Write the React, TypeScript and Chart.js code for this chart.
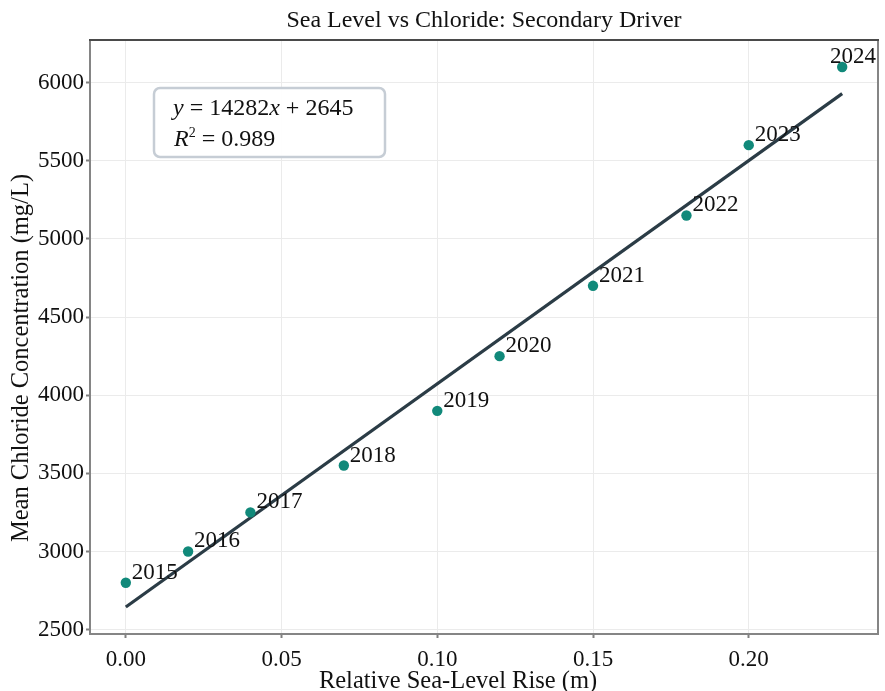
import React, { useEffect, useRef } from "react";
import { Chart, registerables } from "chart.js";

Chart.register(...registerables);

const years = ["2015", "2016", "2017", "2018", "2019", "2020", "2021", "2022", "2023", "2024"];
const seaLevelRise = [0, 0.02, 0.04, 0.07, 0.1, 0.12, 0.15, 0.18, 0.2, 0.23];
const chloride = [2800, 3000, 3250, 3550, 3900, 4250, 4700, 5150, 5600, 6100];
const fitX = [0, 0.23];
const fitY = [2645, 5930];
const xTickValues = [0, 0.05, 0.1, 0.15, 0.2];
const yTickValues = [2500, 3000, 3500, 4000, 4500, 5000, 5500, 6000];
const chartTitle = "Sea Level vs Chloride: Secondary Driver";
const xAxisTitle = "Relative Sea-Level Rise (m)";
const yAxisTitle = "Mean Chloride Concentration (mg/L)";
const equationText = "y = 14282x + 2645";
const r2Text = "R² = 0.989";

const SERIF = "'Liberation Serif', 'Times New Roman', serif";

const overlayPlugin = {
  id: "overlay",
  afterDatasetsDraw(chart: any) {
    const ctx = chart.ctx;
    const { left, top, right, bottom } = chart.chartArea;
    ctx.save();
    // panel border
    ctx.lineWidth = 2;
    ctx.strokeStyle = "#858585";
    ctx.beginPath();
    ctx.moveTo(left, top);
    ctx.lineTo(left, bottom);
    ctx.lineTo(right, bottom);
    ctx.lineTo(right, top);
    ctx.stroke();
    ctx.strokeStyle = "#4a4a4a";
    ctx.beginPath();
    ctx.moveTo(left - 1, top);
    ctx.lineTo(right + 1, top);
    ctx.stroke();

    // year labels
    const meta = chart.getDatasetMeta(1);
    ctx.font = `23px ${SERIF}`;
    ctx.fillStyle = "#111";
    ctx.textBaseline = "alphabetic";
    ctx.textAlign = "left";
    meta.data.forEach((el: any, i: number) => {
      const t = years[i];
      const w = ctx.measureText(t).width;
      let x = el.x + 6;
      if (x + w > right - 2) x = right - 2 - w;
      ctx.fillText(t, x, el.y - 4);
    });

    // equation box
    const bx = left + 64;
    const by = top + 48;
    const bw = 231;
    const bh = 69;
    ctx.beginPath();
    ctx.roundRect(bx, by, bw, bh, 6);
    ctx.fillStyle = "rgba(255,255,255,0.95)";
    ctx.fill();
    ctx.lineWidth = 2.5;
    ctx.strokeStyle = "#c6cdd5";
    ctx.stroke();

    const drawPieces = (pieces: any[], x: number, y: number) => {
      let cx = x;
      for (const p of pieces) {
        const size = p.sup ? 14 : 24;
        ctx.font = `${p.it ? "italic " : ""}${size}px ${SERIF}`;
        ctx.fillStyle = "#111";
        ctx.fillText(p.t, cx, p.sup ? y - 9 : y);
        cx += ctx.measureText(p.t).width;
      }
    };
    const eqParts = equationText.split(/(y|x)/).filter((s) => s.length > 0);
    drawPieces(
      eqParts.map((s) => ({ t: s, it: s === "y" || s === "x" })),
      bx + 19,
      by + 27
    );
    const rest = r2Text.slice(2);
    drawPieces(
      [
        { t: "R", it: true },
        { t: "2", sup: true },
        { t: rest },
      ],
      bx + 20,
      by + 58
    );

    // axis titles
    ctx.font = `24.5px ${SERIF}`;
    ctx.fillStyle = "#111";
    ctx.textAlign = "center";
    ctx.textBaseline = "middle";
    ctx.fillText(xAxisTitle, (left + right) / 2 - 26, chart.height - 9);
    ctx.translate(22, (top + bottom) / 2 + 21);
    ctx.rotate(-Math.PI / 2);
    ctx.fillText(yAxisTitle, 0, 0);
    ctx.restore();
  },
};

export default function App() {
  const ref = useRef<HTMLCanvasElement | null>(null);
  useEffect(() => {
    if (!ref.current) return;
    const chart = new Chart(ref.current, {
      type: "scatter",
      data: {
        datasets: [
          {
            type: "line",
            label: "Fit",
            data: fitX.map((x, i) => ({ x, y: fitY[i] })),
            borderColor: "#2b3c46",
            borderWidth: 3.2,
            pointRadius: 0,
            fill: false,
            order: 1,
          } as any,
          {
            label: "Years",
            data: seaLevelRise.map((x, i) => ({ x, y: chloride[i] })),
            backgroundColor: "#11897a",
            borderColor: "#11897a",
            pointRadius: 5.2,
            pointBorderWidth: 0,
            order: 0,
          },
        ],
      },
      options: {
        animation: false,
        responsive: false,
        devicePixelRatio: 1,
        layout: { padding: { left: 0, right: 7, top: 0, bottom: 0 } },
        plugins: {
          legend: { display: false },
          tooltip: { enabled: false },
          title: {
            display: true,
            text: chartTitle,
            fullSize: false,
            color: "#111",
            font: { family: SERIF, size: 24, weight: "normal", lineHeight: 1.2 },
            padding: { top: 6, bottom: 5.2 },
          },
        },
        scales: {
          x: {
            type: "linear",
            min: -0.0115,
            max: 0.2415,
            afterFit: (s: any) => {
              s.height = 57;
            },
            afterBuildTicks: (s: any) => {
              s.ticks = xTickValues.map((v) => ({ value: v }));
            },
            ticks: {
              padding: 8,
              color: "#111",
              font: { family: SERIF, size: 23 },
              callback: (v: any) => Number(v).toFixed(2),
              maxRotation: 0,
              autoSkip: false,
            },
            grid: {
              color: "#ebebeb",
              lineWidth: 1,
              drawTicks: true,
              tickLength: 4,
              tickColor: "#808080",
              tickWidth: 2,
            },
            border: { display: false },
            title: { display: false, text: xAxisTitle },
          },
          y: {
            type: "linear",
            min: 2472,
            max: 6273,
            afterFit: (s: any) => {
              s.width = 90;
            },
            afterBuildTicks: (s: any) => {
              s.ticks = yTickValues.map((v) => ({ value: v }));
            },
            ticks: {
              padding: 2,
              color: "#111",
              font: { family: SERIF, size: 23 },
              callback: (v: any) => String(v),
              autoSkip: false,
            },
            grid: {
              color: "#ebebeb",
              lineWidth: 1,
              drawTicks: true,
              tickLength: 4,
              tickColor: "#808080",
              tickWidth: 2,
            },
            border: { display: false },
            title: { display: false, text: yAxisTitle },
          },
        },
      },
      plugins: [overlayPlugin],
    } as any);
    return () => chart.destroy();
  }, []);
  return (
    <canvas
      ref={ref}
      width={885}
      height={691}
      style={{ position: "fixed", left: 0, top: 0, width: 885, height: 691, display: "block", background: "#fff" }}
    />
  );
}
